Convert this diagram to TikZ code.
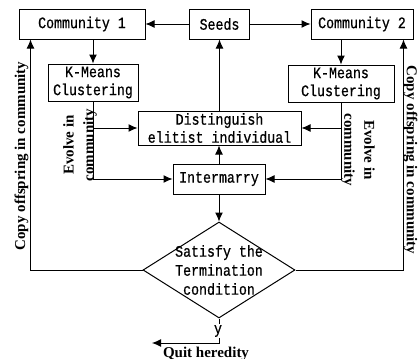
\documentclass[tikz,border=0pt]{standalone}
\usepackage{fontspec}
\setmainfont{Liberation Serif}
\newfontfamily\boxfont[FakeStretch=0.83,FakeBold=0.6]{Liberation Mono}
\usetikzlibrary{arrows.meta,shapes.geometric}
\begin{document}
\begin{tikzpicture}[x=1pt,y=-1pt,
  line width=1pt,
  box/.style={draw, rectangle, inner sep=0pt, align=center, font=\boxfont\fontsize{16}{18}\selectfont},
  arr/.style={-{Latex[length=9pt,width=8pt]}},
  side/.style={font=\bfseries\fontsize{15}{20}\selectfont, align=center, inner sep=0pt}]
\useasboundingbox (0,0) rectangle (418,359);
\node[box, minimum width=126pt, minimum height=30pt] (c1) at (82,24) {Community 1};
\node[box, minimum width=60pt, minimum height=30pt] (seeds) at (219.5,24) {Seeds};
\node[box, minimum width=102pt, minimum height=30pt] (c2) at (362,24) {Community 2};
\node[box, minimum width=90pt, minimum height=37pt] (k1) at (93,82.5) {K-Means\\Clustering};
\node[box, minimum width=106pt, minimum height=37pt] (k2) at (341,83.5) {K-Means\\Clustering};
\node[box, minimum width=163pt, minimum height=34pt] (dist) at (219.5,128) {Distinguish\\elitist individual};
\node[box, minimum width=92pt, minimum height=30pt] (inter) at (219,179) {Intermarry};
\node[draw, diamond, minimum width=152pt, minimum height=96pt, inner sep=0pt] (dia) at (219,270) {};
\node[font=\boxfont\fontsize{16}{19}\selectfont, align=center, inner sep=0pt] (diatext) at (dia.center) {Satisfy the\\Termination\\condition};
\draw[arr] (seeds) -- (c1);
\draw[arr] (seeds) -- (c2);
\draw[arr] (c1.south -| k1.north) -- (k1.north);
\draw[arr] (c2.south -| k2.north) -- (k2.north);
\draw[arr] (k1.south) |- (inter.west);
\draw[arr] (k1.south |- dist.west) -- (dist.west);
\draw[arr] (k2.south) |- (inter.east);
\draw[arr] (k2.south |- dist.east) -- (dist.east);
\draw[arr] (inter.north) -- (inter.north |- dist.south);
\draw[arr] (dist.north) -- (dist.north |- seeds.south);
\draw[arr] (inter.south) -- (inter.south |- dia.north);
\draw[arr] (dia.west) -| ([xshift=12pt]c1.south west);
\draw[arr] (dia.east) -| ([xshift=-10pt]c2.south east);
\coordinate (quit) at (152,343);
\draw[arr] (dia.south) |- (quit);
\node[fill=white, inner sep=1pt, font=\boxfont\fontsize{16}{16}\selectfont] (ylab) at (218,331) {y};
\node[anchor=base, inner sep=0pt, font=\bfseries\fontsize{15}{15}\selectfont] (quitlab) at (206,357) {Quit heredity};
\node[side, rotate=90] (copyl) at (21.5,156) {Copy offspring in community};
\node[side, rotate=-90] (copyr) at (410.5,160) {Copy offspring in community};
\node[side, rotate=90] (evl) at (80,145) {Evolve in\\community};
\node[side, rotate=-90] (evr) at (358,150) {Evolve in\\community};
\end{tikzpicture}
\end{document}
